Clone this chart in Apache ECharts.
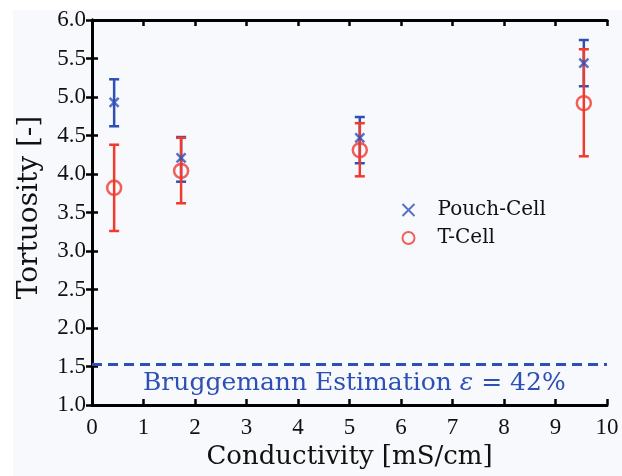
<!DOCTYPE html>
<html>
<head>
<meta charset="utf-8">
<script src="https://cdn.jsdelivr.net/npm/echarts@6/dist/echarts.min.js"></script>
<style>
  html, body { margin: 0; padding: 0; background: #ffffff; }
  #main { width: 622px; height: 476px; }
</style>
</head>
<body>
<div id="main"></div>
<script>
// conductivity values (x) and tortuosity (y) with error bar ends
var conductivity = [0.43, 1.73, 5.2, 9.55];
var pouchCell = [4.93, 4.21, 4.47, 5.44];
var pouchLow = [4.62, 3.90, 4.14, 5.14];
var pouchHigh = [5.23, 4.48, 4.74, 5.74];
var tCell = [3.82, 4.04, 4.31, 4.92];
var tLow = [3.26, 3.62, 3.97, 4.23];
var tHigh = [4.38, 4.47, 4.66, 5.62];
var bruggemann = 1.53;

var blue = '#2d50b6';
var red = '#ef3a2e';
var serif = 'Liberation Serif';
var wideSerif = 'DejaVu Serif';

function pts(ys) {
    return conductivity.map(function (x, i) { return [x, ys[i]]; });
}
function bars(lo, hi) {
    return conductivity.map(function (x, i) { return [x, lo[i], hi[i]]; });
}

// error bar with caps
function errorBar(color) {
    return function (params, api) {
        var x = api.value(0);
        var lo = api.coord([x, api.value(1)]);
        var hi = api.coord([x, api.value(2)]);
        var w = 5;
        var st = { stroke: color, lineWidth: 2.5 };
        return {
            type: 'group',
            children: [
                { type: 'line', shape: { x1: lo[0], y1: lo[1], x2: hi[0], y2: hi[1] }, style: st },
                { type: 'line', shape: { x1: lo[0] - w, y1: lo[1], x2: lo[0] + w, y2: lo[1] }, style: st },
                { type: 'line', shape: { x1: hi[0] - w, y1: hi[1], x2: hi[0] + w, y2: hi[1] }, style: st }
            ]
        };
    };
}

var myChart = echarts.init(document.getElementById('main'));

var axisLine = { show: true, lineStyle: { color: '#000', width: 3 } };
var tick = { show: true, inside: true, length: 6, lineStyle: { color: '#000', width: 2.5 } };

var option = {
    backgroundColor: '#ffffff',
    animation: false,
    grid: { left: 92, top: 20, right: 15, bottom: 71 },
    legend: {
        left: 395, top: 195,
        orient: 'vertical',
        itemGap: 8,
        itemWidth: 30, itemHeight: 12,
        textStyle: { fontFamily: wideSerif, fontSize: 20, color: '#111', padding: [0, 0, 0, 9] },
        data: ['Pouch-Cell', 'T-Cell']
    },
    xAxis: [{
        type: 'value', min: 0, max: 10, interval: 1,
        axisLine: axisLine, axisTick: tick, splitLine: { show: false },
        axisLabel: { fontFamily: serif, fontSize: 23, color: '#111', margin: 11 },
        name: 'Conductivity [mS/cm]', nameLocation: 'middle', nameGap: 39,
        nameTextStyle: { fontFamily: wideSerif, fontSize: 26, color: '#111' }
    }, {
        type: 'value', min: 0, max: 10, interval: 1, position: 'top',
        axisLine: axisLine, axisTick: tick, splitLine: { show: false },
        axisLabel: { show: false }
    }],
    yAxis: [{
        type: 'value', min: 1, max: 6, interval: 0.5,
        axisLine: axisLine, axisTick: tick, splitLine: { show: false },
        axisLabel: {
            fontFamily: serif, fontSize: 23, color: '#111', margin: 6,
            formatter: function (v) { return v.toFixed(1); }
        },
        name: 'Tortuosity [-]', nameLocation: 'middle', nameGap: 48, nameRotate: 90,
        nameTextStyle: { fontFamily: wideSerif, fontSize: 28, color: '#111', padding: [0, 0, 0, 10] }
    }, {
        type: 'value', min: 1, max: 6, interval: 0.5, position: 'right',
        axisLine: axisLine, axisTick: tick, splitLine: { show: false },
        axisLabel: { show: false }
    }],
    graphic: [{
        type: 'rect', left: 13, top: 10, z: -10, silent: true,
        shape: { width: 609, height: 466 },
        style: { fill: '#f8f9fd' }
    }, {
        type: 'text', left: 143, top: 371,
        style: {
            text: '{a|Bruggemann Estimation }{b|ε}{a| = 42%}',
            rich: {
                a: { fontFamily: wideSerif, fontSize: 25, fill: blue },
                b: { fontFamily: wideSerif, fontSize: 25, fontStyle: 'italic', fill: blue }
            }
        }
    }],
    series: [{
        type: 'custom', name: 'pouchErr', renderItem: errorBar(blue),
        data: bars(pouchLow, pouchHigh), z: 2
    }, {
        type: 'custom', name: 'tErr', renderItem: errorBar(red),
        data: bars(tLow, tHigh), z: 3
    }, {
        name: 'Pouch-Cell', type: 'scatter', data: pts(pouchCell), z: 4,
        symbol: 'path://M0,0L10,10M10,0L0,10', symbolSize: 9,
        itemStyle: { color: 'none', borderColor: blue, borderWidth: 2.5 },
        markLine: {
            silent: true, symbol: 'none', label: { show: false },
            lineStyle: { color: blue, width: 3, type: [10, 6] },
            data: [{ yAxis: bruggemann }]
        }
    }, {
        name: 'T-Cell', type: 'scatter', data: pts(tCell), z: 5,
        symbol: 'circle', symbolSize: 14,
        itemStyle: { color: 'rgba(0,0,0,0)', borderColor: red, borderWidth: 2.5 }
    }]
};
myChart.setOption(option);
</script>
</body>
</html>
